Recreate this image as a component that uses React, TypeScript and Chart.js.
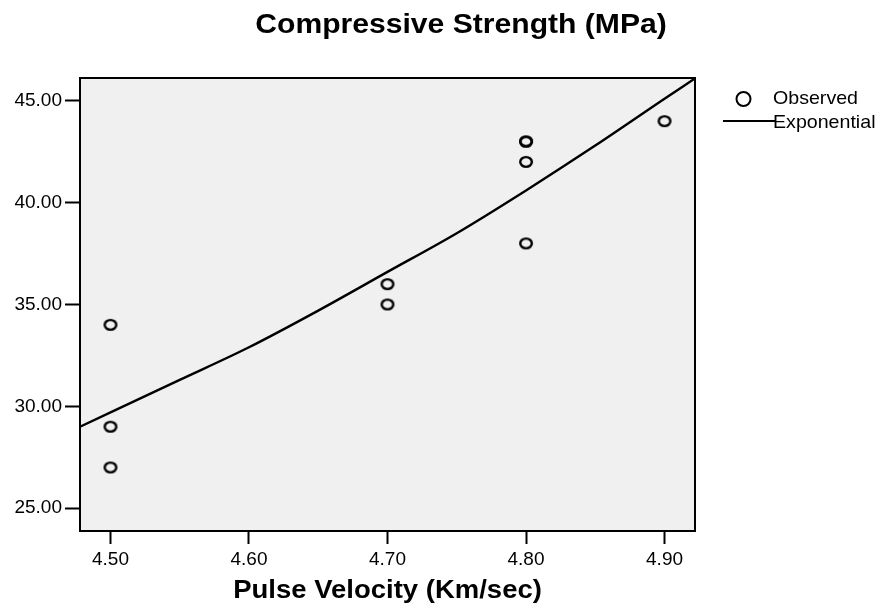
import React, { useEffect, useRef } from "react";
import { Chart, registerables } from "chart.js";

Chart.register(...registerables);

// Observed samples: pulse velocity (Km/sec) vs compressive strength (MPa)
const velocity = [4.5, 4.5, 4.5, 4.7, 4.7, 4.8, 4.8, 4.8, 4.8, 4.9];
const strength = [34, 29, 27, 36, 35, 43, 43, 42, 38, 44];

// Exponential model curve, sampled along the velocity axis
const fitVelocity = [4.478, 4.55, 4.6, 4.65, 4.7, 4.75, 4.8, 4.85, 4.9, 4.922];
const fitStrength = [29.0, 31.3, 32.9, 34.7, 36.6, 38.5, 40.6, 42.8, 45.1, 46.1];

const xTicks = [4.5, 4.6, 4.7, 4.8, 4.9];
const yTicks = [25, 30, 35, 40, 45];

const chartTitle = "Compressive Strength (MPa)";
const xAxisTitle = "Pulse Velocity (Km/sec)";
const legendLabels = ["Observed", "Exponential"];

const FONT = "'Liberation Sans', Arial, sans-serif";

function makeMarker(): HTMLCanvasElement {
  const c = document.createElement("canvas");
  c.width = 18;
  c.height = 16;
  const ctx = c.getContext("2d")!;
  ctx.strokeStyle = "#000";
  ctx.lineWidth = 2.4;
  ctx.beginPath();
  ctx.ellipse(9, 8, 5.8, 4.9, 0, 0, Math.PI * 2);
  ctx.stroke();
  return c;
}

// text drawn slightly wider than the font's natural proportions
function wideText(
  ctx: CanvasRenderingContext2D,
  text: string,
  x: number,
  y: number,
  sx: number,
  align: CanvasTextAlign
) {
  ctx.save();
  ctx.translate(x, y);
  ctx.scale(sx, 1);
  ctx.textAlign = align;
  ctx.fillText(text, 0, 0);
  ctx.restore();
}

const framePlugin = {
  id: "frame",
  beforeDraw(chart: any) {
    const { ctx, chartArea: a } = chart;
    ctx.save();
    ctx.fillStyle = "#f0f0f0";
    ctx.fillRect(a.left, a.top, a.right - a.left, a.bottom - a.top);
    ctx.restore();
  },
  afterDraw(chart: any) {
    const { ctx, chartArea: a } = chart;
    ctx.save();
    // plot frame
    ctx.strokeStyle = "#000";
    ctx.lineWidth = 2;
    ctx.strokeRect(a.left, a.top, a.right - a.left, a.bottom - a.top);

    // titles
    ctx.fillStyle = "#000";
    ctx.textBaseline = "alphabetic";
    ctx.font = `bold 28px ${FONT}`;
    wideText(ctx, chartTitle, 461, 33, 1.075, "center");
    ctx.font = `bold 25px ${FONT}`;
    wideText(ctx, xAxisTitle, (a.left + a.right) / 2, 598, 1.1, "center");

    // legend
    ctx.textBaseline = "middle";
    ctx.font = `18.5px ${FONT}`;
    ctx.lineWidth = 2;
    ctx.beginPath();
    ctx.arc(743.5, 99, 7, 0, Math.PI * 2);
    ctx.stroke();
    wideText(ctx, legendLabels[0], 773, 99, 1.06, "left");
    ctx.beginPath();
    ctx.moveTo(723, 121);
    ctx.lineTo(776, 121);
    ctx.stroke();
    wideText(ctx, legendLabels[1], 773, 123, 1.06, "left");
    ctx.restore();
  },
};

export default function App() {
  const ref = useRef<HTMLCanvasElement | null>(null);

  useEffect(() => {
    if (!ref.current) return;
    const marker = makeMarker();
    const tickFont = { family: FONT, size: 19 };
    const chart = new Chart(ref.current, {
      type: "scatter",
      data: {
        datasets: [
          {
            label: legendLabels[0],
            data: velocity.map((x, i) => ({ x, y: strength[i] })),
            pointStyle: marker as any,
            pointRadius: 7,
            showLine: false,
          },
          {
            type: "line" as any,
            label: legendLabels[1],
            data: fitVelocity.map((x, i) => ({ x, y: fitStrength[i] })),
            borderColor: "#000",
            borderWidth: 2.4,
            pointRadius: 0,
            cubicInterpolationMode: "monotone",
            fill: false,
          },
        ],
      },
      options: {
        responsive: false,
        animation: false,
        layout: { padding: { top: 78, right: 186, bottom: 0, left: 0 } },
        plugins: {
          legend: { display: false },
          title: { display: false },
          tooltip: { enabled: false },
        },
        scales: {
          x: {
            type: "linear",
            min: 4.478,
            max: 4.922,
            afterFit: (s: any) => {
              s.height = 79;
            },
            afterBuildTicks: (s: any) => {
              s.ticks = xTicks.map((value) => ({ value }));
            },
            border: { display: false },
            grid: {
              drawOnChartArea: false,
              drawTicks: true,
              tickLength: 13,
              tickWidth: 2,
              tickColor: "#000",
            },
            ticks: {
              color: "#000",
              font: tickFont,
              padding: 4,
              maxRotation: 0,
              callback: (v: any) => Number(v).toFixed(2),
            },
          },
          y: {
            type: "linear",
            min: 23.88,
            max: 46.12,
            afterFit: (s: any) => {
              s.width = 80;
            },
            afterBuildTicks: (s: any) => {
              s.ticks = yTicks.map((value) => ({ value }));
            },
            border: { display: false },
            grid: {
              drawOnChartArea: false,
              drawTicks: true,
              tickLength: 15,
              tickWidth: 2,
              tickColor: "#000",
            },
            ticks: {
              color: "#000",
              font: tickFont,
              padding: 3,
              callback: (v: any) => Number(v).toFixed(2),
            },
          },
        },
      },
      plugins: [framePlugin],
    });
    return () => chart.destroy();
  }, []);

  return (
    <div style={{ position: "absolute", left: 0, top: 0, width: 881, height: 610, background: "#fff" }}>
      <canvas ref={ref} width={881} height={610} />
    </div>
  );
}
